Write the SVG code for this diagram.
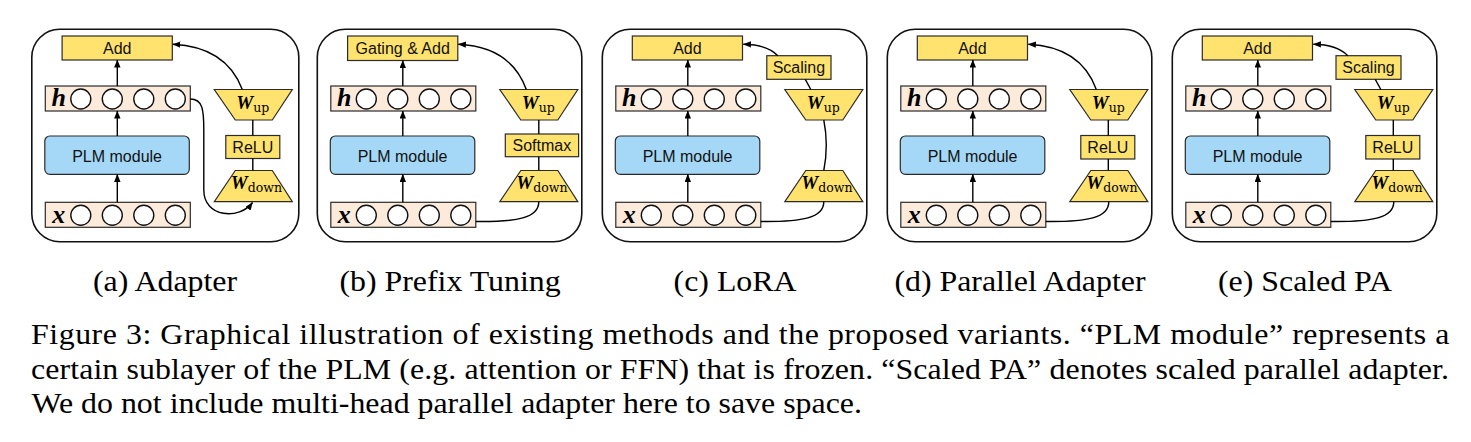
<svg xmlns="http://www.w3.org/2000/svg" width="1471" height="442" viewBox="0 0 1471 442">
<defs>
<style>
.frame{fill:none;stroke:#111;stroke-width:1.6}
.yel{fill:#FFE36E;stroke:#2b2b2b;stroke-width:1.2}
.row{fill:#FCEADB;stroke:#2b2b2b;stroke-width:1.2}
.blue{fill:#A5D8F6;stroke:#2b2b2b;stroke-width:1.2}
.dot{fill:#fff;stroke:#111;stroke-width:1.4}
.lbl{font-family:"Liberation Sans",Arial,sans-serif;font-size:16px;fill:#111;text-anchor:middle}
.var{font-family:"Liberation Serif","Times New Roman",serif;font-size:26px;font-weight:bold;font-style:italic;fill:#000;text-anchor:middle}
.w{font-family:"Liberation Serif","Times New Roman",serif;font-size:19px;font-weight:bold;font-style:italic;fill:#000}
.sub{font-family:"DejaVu Serif",serif;font-size:12.5px;font-weight:normal;font-style:normal}
.con{fill:none;stroke:#000;stroke-width:1.4}
.cap{font-family:"Liberation Serif","Times New Roman",serif;font-size:29.5px;fill:#000}
</style>
<marker id="ah" viewBox="0 0 10 8" refX="9.5" refY="4" markerWidth="8" markerHeight="6.4" markerUnits="userSpaceOnUse" orient="auto">
<path d="M0,0 L10,4 L0,8 z" fill="#000"/>
</marker>
</defs>

<!-- Panel (a) Adapter -->
<g id="panel-a" transform="translate(31.8,0)">
<rect class="frame" x="0" y="29.3" width="267" height="212.4" rx="28"/>
<g id="a-add"><rect class="yel" x="30.3" y="36" width="110.2" height="24"/><text class="lbl" x="85.4" y="54">Add</text></g>
<g id="a-h"><rect class="row" x="13.5" y="86" width="145" height="25"/><text class="var" x="27" y="106">h</text>
<circle class="dot" cx="49" cy="99" r="10"/><circle class="dot" cx="80.5" cy="99" r="10"/><circle class="dot" cx="112" cy="99" r="10"/><circle class="dot" cx="143.5" cy="99" r="10"/></g>
<g id="a-plm"><rect class="blue" x="13" y="136" width="144.5" height="38.3" rx="5"/><text class="lbl" x="85.3" y="161.7">PLM module</text></g>
<g id="a-x"><rect class="row" x="13.5" y="202.3" width="145" height="25"/><text class="var" x="27" y="223">x</text>
<circle class="dot" cx="49" cy="215.3" r="10"/><circle class="dot" cx="80.5" cy="215.3" r="10"/><circle class="dot" cx="112" cy="215.3" r="10"/><circle class="dot" cx="143.5" cy="215.3" r="10"/></g>
<g id="a-wup"><polygon class="yel" points="182.5,89.5 260.5,89.5 240.5,120 203.5,120"/><text class="w" x="204.5" y="108.5">W<tspan class="sub" dy="3.8">up</tspan></text></g>
<g id="a-relu"><rect class="yel" x="194" y="135.5" width="54" height="23"/><text class="lbl" x="221" y="152.7">ReLU</text></g>
<g id="a-wdown"><polygon class="yel" points="203.5,170.5 240.5,170.5 260.5,201.7 182.5,201.7"/><text class="w" x="199" y="188.5">W<tspan class="sub" dy="3.8">down</tspan></text></g>
<g id="a-connectors">
<path class="con" marker-end="url(#ah)" d="M85.5,86 V60"/>
<path class="con" marker-end="url(#ah)" d="M85.5,136 V111"/>
<path class="con" marker-end="url(#ah)" d="M85.5,202.3 V174.3"/>
<path class="con" d="M221,120 V135.5 M221,158.5 V170.5"/>
<path class="con" marker-end="url(#ah)" d="M210.5,89.5 C200,62 178,46 141,44.3"/>
<path class="con" marker-end="url(#ah)" d="M158.5,99 C171,99 172,110 172,130 L172,190 C172,218 208,220 220.7,202.5"/>
</g>
</g>

<!-- Panel (b) Prefix Tuning -->
<g id="panel-b" transform="translate(317.3,0)">
<rect class="frame" x="0" y="29.3" width="264.5" height="212.4" rx="28"/>
<g id="b-gate"><rect class="yel" x="30.3" y="36" width="110.2" height="24.5"/><text class="lbl" x="85.4" y="54.2">Gating &amp; Add</text></g>
<g id="b-h"><rect class="row" x="13.5" y="86" width="145" height="25"/><text class="var" x="27" y="106">h</text>
<circle class="dot" cx="49" cy="99" r="10"/><circle class="dot" cx="80.5" cy="99" r="10"/><circle class="dot" cx="112" cy="99" r="10"/><circle class="dot" cx="143.5" cy="99" r="10"/></g>
<g id="b-plm"><rect class="blue" x="13" y="136" width="144.5" height="38.3" rx="5"/><text class="lbl" x="85.3" y="161.7">PLM module</text></g>
<g id="b-x"><rect class="row" x="13.5" y="202.3" width="145" height="25"/><text class="var" x="27" y="223">x</text>
<circle class="dot" cx="49" cy="215.3" r="10"/><circle class="dot" cx="80.5" cy="215.3" r="10"/><circle class="dot" cx="112" cy="215.3" r="10"/><circle class="dot" cx="143.5" cy="215.3" r="10"/></g>
<g id="b-wup"><polygon class="yel" points="182.5,89.5 260.5,89.5 240.5,120 203.5,120"/><text class="w" x="204.5" y="108.5">W<tspan class="sub" dy="3.8">up</tspan></text></g>
<g id="b-softmax"><rect class="yel" x="188" y="134" width="73.3" height="22.7"/><text class="lbl" x="224.6" y="151">Softmax</text></g>
<g id="b-wdown"><polygon class="yel" points="203.5,170.5 240.5,170.5 260.5,201.7 182.5,201.7"/><text class="w" x="199" y="188.5">W<tspan class="sub" dy="3.8">down</tspan></text></g>
<g id="b-connectors">
<path class="con" marker-end="url(#ah)" d="M85.5,86 V60.5"/>
<path class="con" marker-end="url(#ah)" d="M85.5,136 V111"/>
<path class="con" marker-end="url(#ah)" d="M85.5,202.3 V174.3"/>
<path class="con" d="M221.5,120 V134 M221.5,156.7 V170.5"/>
<path class="con" marker-end="url(#ah)" d="M209,89.5 C199,62 178,46 141,44.3"/>
<path class="con" d="M158.5,221.5 C200,222 221.5,218 221.5,201.7"/>
</g>
</g>

<!-- Panel (c) LoRA -->
<g id="panel-c" transform="translate(602.3,0)">
<rect class="frame" x="0" y="29.3" width="264.5" height="212.4" rx="28"/>
<g id="c-add"><rect class="yel" x="30" y="36" width="110.2" height="24"/><text class="lbl" x="85.1" y="54">Add</text></g>
<g id="c-scaling"><rect class="yel" x="164.5" y="55.7" width="64.2" height="23.6"/><text class="lbl" x="196.6" y="73.2">Scaling</text></g>
<g id="c-h"><rect class="row" x="13.5" y="86" width="145" height="25"/><text class="var" x="27" y="106">h</text>
<circle class="dot" cx="49" cy="99" r="10"/><circle class="dot" cx="80.5" cy="99" r="10"/><circle class="dot" cx="112" cy="99" r="10"/><circle class="dot" cx="143.5" cy="99" r="10"/></g>
<g id="c-plm"><rect class="blue" x="13" y="136" width="144.5" height="38.3" rx="5"/><text class="lbl" x="85.3" y="161.7">PLM module</text></g>
<g id="c-x"><rect class="row" x="13.5" y="202.3" width="145" height="25"/><text class="var" x="27" y="223">x</text>
<circle class="dot" cx="49" cy="215.3" r="10"/><circle class="dot" cx="80.5" cy="215.3" r="10"/><circle class="dot" cx="112" cy="215.3" r="10"/><circle class="dot" cx="143.5" cy="215.3" r="10"/></g>
<g id="c-wup"><polygon class="yel" points="182.5,89.5 260.5,89.5 240.5,120 203.5,120"/><text class="w" x="204.5" y="108.5">W<tspan class="sub" dy="3.8">up</tspan></text></g>
<g id="c-wdown"><polygon class="yel" points="203.5,170.5 240.5,170.5 260.5,201.7 182.5,201.7"/><text class="w" x="199" y="188.5">W<tspan class="sub" dy="3.8">down</tspan></text></g>
<g id="c-connectors">
<path class="con" marker-end="url(#ah)" d="M85.5,86 V60"/>
<path class="con" marker-end="url(#ah)" d="M85.5,136 V111"/>
<path class="con" marker-end="url(#ah)" d="M85.5,202.3 V174.3"/>
<path class="con" d="M221.5,120 C224.5,135 224.5,155 221.5,170.5"/>
<path class="con" d="M208.5,89.5 L203,79.3"/>
<path class="con" marker-end="url(#ah)" d="M175.5,55.7 C168,48 156,44.5 141,44.3"/>
<path class="con" d="M158.5,221.5 C200,222 221.5,218 221.5,201.7"/>
</g>
</g>

<!-- Panel (d) Parallel Adapter -->
<g id="panel-d" transform="translate(887.3,0)">
<rect class="frame" x="0" y="29.3" width="264.5" height="212.4" rx="28"/>
<g id="d-add"><rect class="yel" x="30" y="36" width="110.2" height="24"/><text class="lbl" x="85.1" y="54">Add</text></g>
<g id="d-h"><rect class="row" x="13.5" y="86" width="145" height="25"/><text class="var" x="27" y="106">h</text>
<circle class="dot" cx="49" cy="99" r="10"/><circle class="dot" cx="80.5" cy="99" r="10"/><circle class="dot" cx="112" cy="99" r="10"/><circle class="dot" cx="143.5" cy="99" r="10"/></g>
<g id="d-plm"><rect class="blue" x="13" y="136" width="144.5" height="38.3" rx="5"/><text class="lbl" x="85.3" y="161.7">PLM module</text></g>
<g id="d-x"><rect class="row" x="13.5" y="202.3" width="145" height="25"/><text class="var" x="27" y="223">x</text>
<circle class="dot" cx="49" cy="215.3" r="10"/><circle class="dot" cx="80.5" cy="215.3" r="10"/><circle class="dot" cx="112" cy="215.3" r="10"/><circle class="dot" cx="143.5" cy="215.3" r="10"/></g>
<g id="d-wup"><polygon class="yel" points="182.5,89.5 260.5,89.5 240.5,120 203.5,120"/><text class="w" x="204.5" y="108.5">W<tspan class="sub" dy="3.8">up</tspan></text></g>
<g id="d-relu"><rect class="yel" x="193.5" y="135.5" width="54" height="23.5"/><text class="lbl" x="220.5" y="152.9">ReLU</text></g>
<g id="d-wdown"><polygon class="yel" points="203.5,170.5 240.5,170.5 260.5,201.7 182.5,201.7"/><text class="w" x="199" y="188.5">W<tspan class="sub" dy="3.8">down</tspan></text></g>
<g id="d-connectors">
<path class="con" marker-end="url(#ah)" d="M85.5,86 V60"/>
<path class="con" marker-end="url(#ah)" d="M85.5,136 V111"/>
<path class="con" marker-end="url(#ah)" d="M85.5,202.3 V174.3"/>
<path class="con" d="M221,120 V135.5 M221,159 V170.5"/>
<path class="con" marker-end="url(#ah)" d="M209,89.5 C199,62 178,46 141,44.3"/>
<path class="con" d="M158.5,221.5 C200,222 221.5,218 221.5,201.7"/>
</g>
</g>

<!-- Panel (e) Scaled PA -->
<g id="panel-e" transform="translate(1172.3,0)">
<rect class="frame" x="0" y="29.3" width="264.5" height="212.4" rx="28"/>
<g id="e-add"><rect class="yel" x="30" y="36" width="110.2" height="24"/><text class="lbl" x="85.1" y="54">Add</text></g>
<g id="e-scaling"><rect class="yel" x="163.7" y="55.7" width="65" height="23.6"/><text class="lbl" x="196.2" y="73.2">Scaling</text></g>
<g id="e-h"><rect class="row" x="13.5" y="86" width="145" height="25"/><text class="var" x="27" y="106">h</text>
<circle class="dot" cx="49" cy="99" r="10"/><circle class="dot" cx="80.5" cy="99" r="10"/><circle class="dot" cx="112" cy="99" r="10"/><circle class="dot" cx="143.5" cy="99" r="10"/></g>
<g id="e-plm"><rect class="blue" x="13" y="136" width="144.5" height="38.3" rx="5"/><text class="lbl" x="85.3" y="161.7">PLM module</text></g>
<g id="e-x"><rect class="row" x="13.5" y="202.3" width="145" height="25"/><text class="var" x="27" y="223">x</text>
<circle class="dot" cx="49" cy="215.3" r="10"/><circle class="dot" cx="80.5" cy="215.3" r="10"/><circle class="dot" cx="112" cy="215.3" r="10"/><circle class="dot" cx="143.5" cy="215.3" r="10"/></g>
<g id="e-wup"><polygon class="yel" points="182.5,89.5 260.5,89.5 240.5,120 203.5,120"/><text class="w" x="204.5" y="108.5">W<tspan class="sub" dy="3.8">up</tspan></text></g>
<g id="e-relu"><rect class="yel" x="193.5" y="135.5" width="54" height="23.5"/><text class="lbl" x="220.5" y="152.9">ReLU</text></g>
<g id="e-wdown"><polygon class="yel" points="203.5,170.5 240.5,170.5 260.5,201.7 182.5,201.7"/><text class="w" x="199" y="188.5">W<tspan class="sub" dy="3.8">down</tspan></text></g>
<g id="e-connectors">
<path class="con" marker-end="url(#ah)" d="M85.5,86 V60"/>
<path class="con" marker-end="url(#ah)" d="M85.5,136 V111"/>
<path class="con" marker-end="url(#ah)" d="M85.5,202.3 V174.3"/>
<path class="con" d="M221,120 V135.5 M221,159 V170.5"/>
<path class="con" d="M208.5,89.5 L203,79.3"/>
<path class="con" marker-end="url(#ah)" d="M175.5,55.7 C168,48 156,44.5 141,44.3"/>
<path class="con" d="M158.5,221.5 C200,222 221.5,218 221.5,201.7"/>
</g>
</g>

<!-- Captions -->
<g id="captions" transform="scale(1.08 1)">
<text class="cap" x="152.8" y="291" text-anchor="middle">(a) Adapter</text>
<text class="cap" x="416.7" y="291" text-anchor="middle">(b) Prefix Tuning</text>
<text class="cap" x="680.6" y="291" text-anchor="middle">(c) LoRA</text>
<text class="cap" x="944.4" y="291" text-anchor="middle">(d) Parallel Adapter</text>
<text class="cap" x="1208.3" y="291" text-anchor="middle">(e) Scaled PA</text>
<text class="cap" x="28.7" y="344.5" textLength="1313.4" lengthAdjust="spacing">Figure 3: Graphical illustration of existing methods and the proposed variants. “PLM module” represents a</text>
<text class="cap" x="28.7" y="379" textLength="1312.9" lengthAdjust="spacing">certain sublayer of the PLM (e.g. attention or FFN) that is frozen. “Scaled PA” denotes scaled parallel adapter.</text>
<text class="cap" x="29.1" y="413.5" textLength="769" lengthAdjust="spacing">We do not include multi-head parallel adapter here to save space.</text>
</g>
</svg>
